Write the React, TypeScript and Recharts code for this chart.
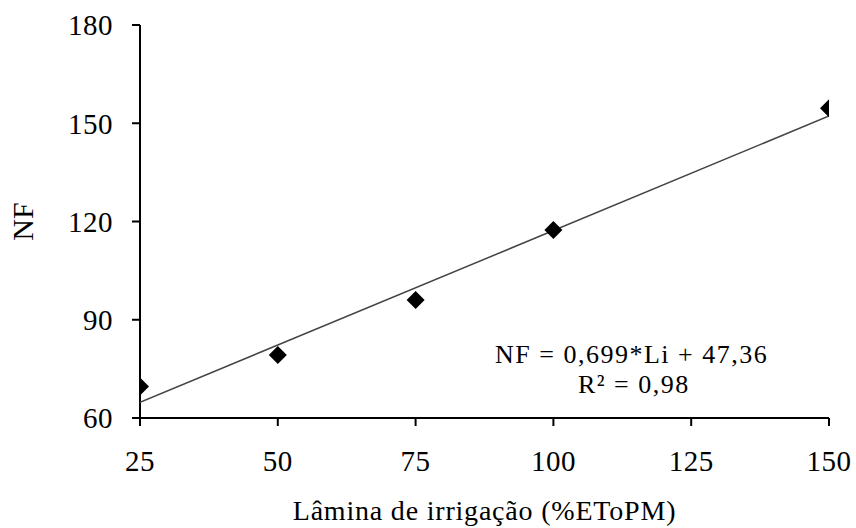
import {
  ComposedChart,
  Scatter,
  XAxis,
  YAxis,
  ReferenceDot,
} from "recharts";

// lâmina de irrigação (%ETo PM)
const laminas = [25, 50, 75, 100, 150];
// número de frutos observado
const nf = [69.6, 79.2, 96, 117.4, 154.6];

// reta ajustada (NF = 0,699*Li + 47,36), extremos
const trendX = [25, 150];
const trendY = [64.8, 152.2];

const xTicks = [25, 50, 75, 100, 125, 150];
const yTicks = [60, 90, 120, 150, 180];

const points = laminas.map((x, i) => ({ x, y: nf[i] }));
const trend = trendX.map((x, i) => ({ x, y: trendY[i] }));

const FONT = "'Liberation Serif', 'Times New Roman', serif";

function Diamond(props: any) {
  const { cx, cy } = props;
  const s = 9;
  return (
    <polygon
      points={`${cx},${cy - s} ${cx + s},${cy} ${cx},${cy + s} ${cx - s},${cy}`}
      fill="#000"
    />
  );
}

export default function App() {
  const tick = { fontSize: 29, fill: "#000", fontFamily: FONT, letterSpacing: 0.5 };
  const note = { fontSize: 26, fill: "#000", fontFamily: FONT, letterSpacing: 1.5 };
  return (
    <div style={{ position: "absolute", left: 0, top: 0, width: 856, height: 528, background: "#fff" }}>
      <ComposedChart
        width={856}
        height={528}
        margin={{ top: 25, right: 27, left: 80, bottom: 50 }}
      >
        <XAxis
          dataKey="x"
          type="number"
          domain={[25, 150]}
          ticks={xTicks}
          allowDataOverflow
          axisLine={{ stroke: "#000", strokeWidth: 2 }}
          tickLine={{ stroke: "#000", strokeWidth: 2 }}
          tickSize={8}
          tickMargin={24}
          tick={tick}
          height={60}
          label={{
            value: "Lâmina de irrigação (%EToPM)",
            position: "insideBottom",
            offset: -42,
            style: { fontSize: 28, fill: "#000", fontFamily: FONT, letterSpacing: 0.8 },
          }}
        />
        <YAxis
          dataKey="y"
          type="number"
          domain={[60, 180]}
          ticks={yTicks}
          allowDataOverflow
          axisLine={{ stroke: "#000", strokeWidth: 2 }}
          tickLine={{ stroke: "#000", strokeWidth: 2 }}
          tickSize={8}
          tickMargin={19}
          tick={tick}
          width={60}
          label={{
            value: "NF",
            angle: -90,
            position: "insideLeft",
            offset: -58,
            style: { fontSize: 30, fill: "#000", fontFamily: FONT, textAnchor: "middle" },
          }}
        />
        <Scatter
          data={trend}
          line={{ stroke: "#444", strokeWidth: 1.5 }}
          lineType="joint"
          shape={() => null}
          isAnimationActive={false}
        />
        <Scatter data={points} shape={<Diamond />} isAnimationActive={false} />
        <ReferenceDot
          x={114.2}
          y={79.6}
          r={0}
          fill="none"
          stroke="none"
          label={{ value: "NF = 0,699*Li + 47,36", position: "center", style: note }}
        />
        <ReferenceDot
          x={114.6}
          y={70.6}
          r={0}
          fill="none"
          stroke="none"
          label={{ value: "R² = 0,98", position: "center", style: note }}
        />
      </ComposedChart>
    </div>
  );
}
